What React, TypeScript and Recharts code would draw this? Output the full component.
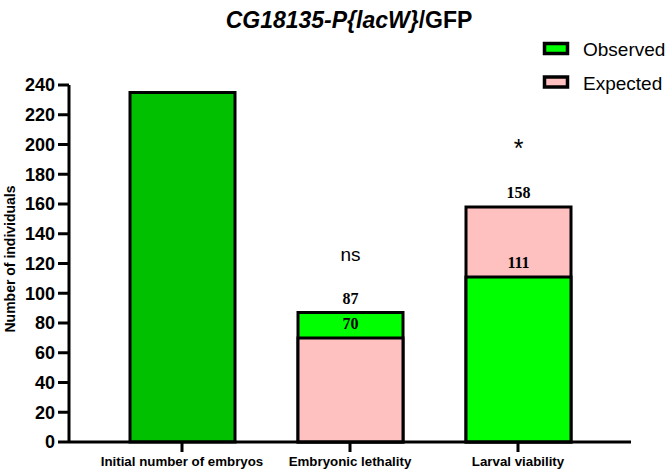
import React from 'react';
import { ComposedChart, Bar, XAxis, YAxis, Cell, LabelList } from 'recharts';

const categories = ['Initial number of embryos', 'Embryonic lethality', 'Larval viability'];
const observed: number[] = [235, 87, 111];
const expected: (number | null)[] = [null, 70, 158];
const significance = ['', 'ns', '*'];
const yTicks = [0, 20, 40, 60, 80, 100, 120, 140, 160, 180, 200, 220, 240];

const INITIAL_COLOR = '#00c000';
const OBS_COLOR = '#00ff00';
const EXP_COLOR = '#ffc0c0';
const SANS = '"Liberation Sans", Arial, sans-serif';
const SERIF = '"Liberation Serif", "Times New Roman", serif';

const data = categories.map((category, i) => {
  const o = observed[i];
  const e = expected[i];
  const initial = e == null;
  const back = initial ? o : Math.max(o, e as number);
  const front = initial ? null : Math.min(o, e as number);
  const backIsObs = initial || o >= (e as number);
  return {
    category,
    back,
    front,
    initial,
    backIsObs,
    backLabel: initial ? null : back,
    frontLabel: front,
    sig: significance[i],
  };
});

const valueLabel = (props: any) => {
  const { x, y, width, value } = props;
  if (value == null || value === '') return null;
  return (
    <text
      x={Number(x) + Number(width) / 2}
      y={Number(y) - 8.5}
      textAnchor="middle"
      fontFamily={SERIF}
      fontWeight="bold"
      fontSize={16}
      fill="#000"
    >
      {value}
    </text>
  );
};

const sigLabel = (props: any) => {
  const { x, y, width, value } = props;
  if (value == null || value === '') return null;
  const isStar = value === '*';
  return (
    <text
      x={Number(x) + Number(width) / 2}
      y={Number(y) - (isStar ? 50 : 52)}
      textAnchor="middle"
      fontFamily={SANS}
      fontSize={isStar ? 25 : 19}
      fill="#000"
    >
      {value}
    </text>
  );
};

export default function App() {
  return (
    <div style={{ position: 'absolute', left: 0, top: 0, width: 671, height: 473, background: '#fff' }}>
      <ComposedChart
        width={671}
        height={473}
        data={data}
        margin={{ top: 85, right: 40, bottom: 0, left: 10 }}
        barGap={-105}
      >
        <XAxis
          dataKey="category"
          type="category"
          height={31}
          padding={{ left: 29, right: 29 }}
          axisLine={{ stroke: '#000', strokeWidth: 3 }}
          tickLine={{ stroke: '#000', strokeWidth: 3 }}
          tickSize={10}
          tickMargin={5}
          interval={0}
          tick={{ fill: '#000', fontSize: 13.3, fontWeight: 'bold', fontFamily: SANS }}
        />
        <YAxis
          type="number"
          domain={[0, 240]}
          ticks={yTicks}
          interval={0}
          width={59}
          axisLine={{ stroke: '#000', strokeWidth: 3 }}
          tickLine={{ stroke: '#000', strokeWidth: 3 }}
          tickSize={11}
          tickMargin={3}
          tick={{ fill: '#000', fontSize: 18, fontWeight: 'bold', fontFamily: SANS }}
        />
        <Bar dataKey="back" barSize={105} stroke="#000" strokeWidth={3} isAnimationActive={false}>
          {data.map((d, i) => (
            <Cell key={`b${i}`} fill={d.initial ? INITIAL_COLOR : d.backIsObs ? OBS_COLOR : EXP_COLOR} />
          ))}
          <LabelList dataKey="backLabel" content={valueLabel} />
          <LabelList dataKey="sig" content={sigLabel} />
        </Bar>
        <Bar dataKey="front" barSize={105} stroke="#000" strokeWidth={3} isAnimationActive={false}>
          {data.map((d, i) => (
            <Cell key={`f${i}`} fill={d.backIsObs ? EXP_COLOR : OBS_COLOR} />
          ))}
          <LabelList dataKey="frontLabel" content={valueLabel} />
        </Bar>
      </ComposedChart>
      <svg
        width={671}
        height={473}
        style={{ position: 'absolute', left: 0, top: 0, pointerEvents: 'none' }}
      >
        <text x={349} y={28} textAnchor="middle" fontFamily={SANS} fontWeight="bold" fontSize={23} fill="#000">
          <tspan fontStyle="italic">CG18135-P{'{'}lacW{'}'}</tspan>
          <tspan>/GFP</tspan>
        </text>
        <rect x={544.5} y={43.5} width={23} height={10} fill={OBS_COLOR} stroke="#000" strokeWidth={3.5} />
        <text x={583} y={55.5} fontFamily={SANS} fontSize={19} fill="#000">Observed</text>
        <rect x={544.5} y={77} width={23} height={10} fill={EXP_COLOR} stroke="#000" strokeWidth={3.5} />
        <text x={583} y={89.5} fontFamily={SANS} fontSize={19} fill="#000">Expected</text>
        <text
          x={15}
          y={259}
          transform="rotate(-90 15 259)"
          textAnchor="middle"
          fontFamily={SANS}
          fontWeight="bold"
          fontSize={14}
          fill="#000"
        >
          Number of individuals
        </text>
      </svg>
    </div>
  );
}
